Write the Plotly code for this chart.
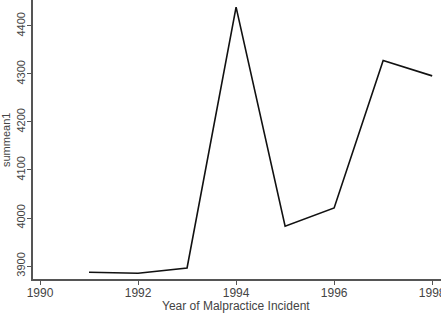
import plotly.graph_objects as go

years = [1991, 1992, 1993, 1994, 1995, 1996, 1997, 1998]
summean1 = [3887, 3885, 3896, 4439, 3983, 4021, 4328, 4296]
x_ticks = [1990, 1992, 1994, 1996, 1998]
y_ticks = [3900, 4000, 4100, 4200, 4300, 4400]

font = "Liberation Sans, Arial, sans-serif"
axis_col = "#555555"
txt_col = "#444444"

L, B = 33, 35
W, H = 441, 314
plot_w = W - L
plot_h = H - B


def px_x(px):
    return (px - L) / plot_w


def px_y(py):
    return (H - B - py) / plot_h


fig = go.Figure()
fig.add_trace(go.Scatter(x=years, y=summean1, mode="lines",
                         line=dict(color="#111111", width=1.6)))

fig.update_layout(
    width=W, height=H,
    margin=dict(l=L, r=0, t=0, b=B),
    paper_bgcolor="white", plot_bgcolor="white",
    showlegend=False,
    font=dict(family=font, size=12, color=txt_col),
    xaxis=dict(range=[1989.857, 1998.18], tickvals=x_ticks,
               ticks="outside", ticklen=4, tickcolor=axis_col, tickwidth=1,
               showline=True, linecolor=axis_col, linewidth=1.5,
               showgrid=False, zeroline=False, automargin=False,
               ticklabeloverflow="allow", ticklabelstandoff=-2,
               tickfont=dict(size=12, color=txt_col)),
    yaxis=dict(range=[3873, 4454], tickvals=y_ticks, tickangle=-90,
               ticks="outside", ticklen=4, tickcolor=axis_col, tickwidth=1,
               showline=True, linecolor=axis_col, linewidth=1.5,
               showgrid=False, zeroline=False, automargin=False,
               ticklabelstandoff=-2,
               tickfont=dict(size=11, color=txt_col)),
    annotations=[
        dict(text="Year of Malpractice Incident", x=px_x(236), y=px_y(306),
             xref="paper", yref="paper", xanchor="center", yanchor="middle",
             showarrow=False, font=dict(size=12, color=txt_col, family=font)),
        dict(text="summean1", x=px_x(6), y=px_y(140), xref="paper", yref="paper",
             xanchor="center", yanchor="middle",
             showarrow=False, textangle=-90,
             font=dict(size=11, color=txt_col, family=font)),
    ],
)

fig.write_html("out.html")
